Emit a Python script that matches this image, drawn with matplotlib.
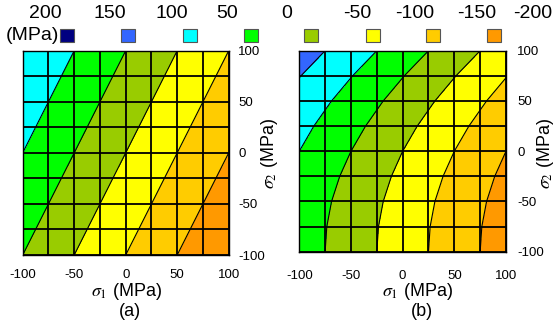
import numpy as np
import matplotlib
matplotlib.use("Agg")
import matplotlib.pyplot as plt
from matplotlib.patches import Rectangle

plt.rcParams['font.family'] = ['Liberation Sans', 'DejaVu Sans']
plt.rcParams['mathtext.fontset'] = 'stix'
plt.rcParams['axes.unicode_minus'] = False

# ---- data ----
sigma1 = [-100, -75, -50, -25, 0, 25, 50, 75, 100]
sigma2 = [-100, -75, -50, -25, 0, 25, 50, 75, 100]
levels = [-200, -150, -100, -50, 0, 50, 100, 150, 200]
legend_labels = ["200", "150", "100", "50", "0", "-50", "-100", "-150", "-200"]
level_colors = ["#ff9900", "#ffcc00", "#ffff00", "#99cc00",
                "#00ff00", "#00ffff", "#3366ff", "#000080"]  # low -> high
tick_values = [-100, -50, 0, 50, 100]

# rows: sigma2 = -100 ... 100 ; columns: sigma1 = -100 ... 100
values_a = [
    [0.0, -25.0, -50.0, -75.0, -100.0, -125.0, -150.0, -175.0, -200.0],
    [12.5, -12.5, -37.5, -62.5, -87.5, -112.5, -137.5, -162.5, -187.5],
    [25.0, 0.0, -25.0, -50.0, -75.0, -100.0, -125.0, -150.0, -175.0],
    [37.5, 12.5, -12.5, -37.5, -62.5, -87.5, -112.5, -137.5, -162.5],
    [50.0, 25.0, 0.0, -25.0, -50.0, -75.0, -100.0, -125.0, -150.0],
    [62.5, 37.5, 12.5, -12.5, -37.5, -62.5, -87.5, -112.5, -137.5],
    [75.0, 50.0, 25.0, 0.0, -25.0, -50.0, -75.0, -100.0, -125.0],
    [87.5, 62.5, 37.5, 12.5, -12.5, -37.5, -62.5, -87.5, -112.5],
    [100.0, 75.0, 50.0, 25.0, 0.0, -25.0, -50.0, -75.0, -100.0],
]
values_b = [
    [25.0, 0.0, -25.0, -50.0, -75.0, -100.0, -125.0, -150.0, -175.0],
    [26.6, 1.6, -23.4, -48.4, -73.4, -98.4, -123.4, -148.4, -173.4],
    [31.2, 6.2, -18.8, -43.8, -68.8, -93.8, -118.8, -143.8, -168.8],
    [39.1, 14.1, -10.9, -35.9, -60.9, -85.9, -110.9, -135.9, -160.9],
    [50.0, 25.0, 0.0, -25.0, -50.0, -75.0, -100.0, -125.0, -150.0],
    [64.1, 39.1, 14.1, -10.9, -35.9, -60.9, -85.9, -110.9, -135.9],
    [81.2, 56.2, 31.2, 6.2, -18.8, -43.8, -68.8, -93.8, -118.8],
    [101.6, 76.6, 51.6, 26.6, 1.6, -23.4, -48.4, -73.4, -98.4],
    [125.0, 100.0, 75.0, 50.0, 25.0, 0.0, -25.0, -50.0, -75.0],
]

W, H = 555, 322
fig = plt.figure(figsize=(W / 100, H / 100), dpi=100)


def fx(px):
    return px / W


def fy(py):
    return 1 - py / H


def panel(rect, vals, xpad, ypad):
    ax = fig.add_axes(rect)
    X, Y = np.meshgrid(sigma1, sigma2)
    Z = np.array(vals)
    ax.contourf(X, Y, Z, levels=levels, colors=level_colors)
    ax.contour(X, Y, Z, levels=levels, colors='black', linewidths=0.8,
               linestyles='solid')
    for v in sigma1:
        ax.axvline(v, color='black', lw=1.3)
    for v in sigma2:
        ax.axhline(v, color='black', lw=1.3)
    ax.set_xlim(-100, 100)
    ax.set_ylim(-100, 100)
    ax.set_xticks(tick_values)
    ax.set_yticks(tick_values)
    ax.yaxis.tick_right()
    ax.tick_params(axis='x', length=0, pad=xpad, labelsize=9.5)
    ax.tick_params(axis='y', length=0, pad=ypad, labelsize=9.5)
    for s in ax.spines.values():
        s.set_linewidth(1.0)
    return ax


ax_a = panel([fx(22.7), fy(255), fx(206), 204.3 / H], values_a, 10, 7)
ax_b = panel([fx(299.3), fy(251.7), fx(206.7), 201 / H], values_b, 13, 8)

# axis labels and panel tags
for cx, tag in [(126, "(a)"), (417.5, "(b)")]:
    fig.text(fx(cx), fy(292), r"$\sigma_1$ (MPa)", ha='center', va='center', fontsize=13)
    fig.text(fx(cx + 4), fy(312), tag, ha='center', va='center', fontsize=13)
for cx in [270, 545]:
    fig.text(fx(cx), fy(154), r"$\sigma_2$ (MPa)", ha='center', va='center',
             fontsize=13, rotation=90)

# legend
num_x = [45, 110, 172, 227, 287, 357, 415, 477, 533]
for x, lab in zip(num_x, legend_labels):
    fig.text(fx(x), fy(14), lab, ha='center', va='center', fontsize=14)
fig.text(fx(32.5), fy(35), "(MPa)", ha='center', va='center', fontsize=14)
sq_x = [66.7, 128, 189.7, 250.5, 311.3, 372.5, 433, 494]
for x, col in zip(sq_x, level_colors[::-1]):
    r = Rectangle((fx(x - 7), fy(42)), fx(14), 13.5 / H, transform=fig.transFigure,
                  facecolor=col, edgecolor='#555555', linewidth=0.8)
    fig.add_artist(r)

fig.savefig("out.png", dpi=100)
